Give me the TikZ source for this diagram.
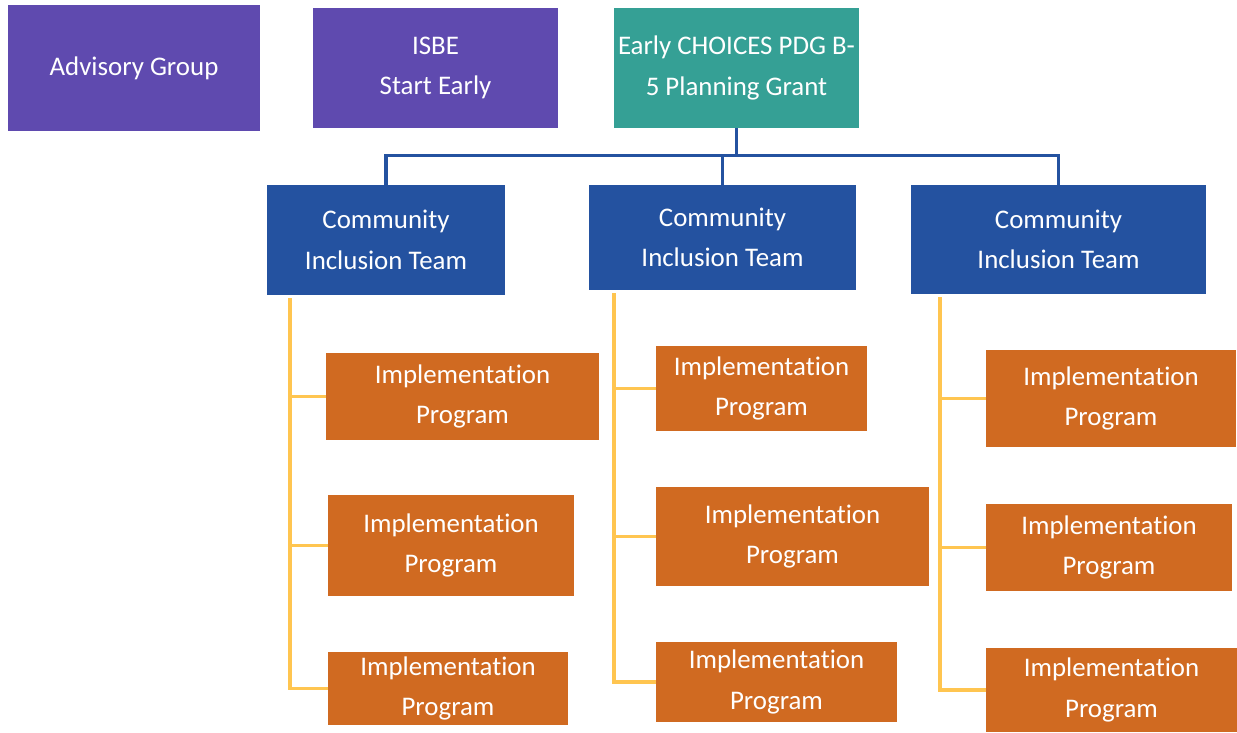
\documentclass[tikz,border=0pt]{standalone}
\usepackage{fontspec}
\setmainfont[Ligatures={NoCommon}]{Carlito}
\definecolor{advpurple}{RGB}{95,74,175}
\definecolor{grantteal}{RGB}{53,160,149}
\definecolor{teamblue}{RGB}{36,82,160}
\definecolor{progorange}{RGB}{208,106,33}
\definecolor{linkyellow}{RGB}{255,197,80}
\tikzset{boxsize/.style 2 args={minimum width=#1*0.02cm, minimum height=#2*0.02cm}}
\tikzstyle{box} = [rectangle, text=white, align=center, inner sep=0pt, font=\fontsize{15.3}{23}\selectfont]
\tikzstyle{lead} = [box, fill=advpurple]
\tikzstyle{grant} = [box, fill=grantteal]
\tikzstyle{team} = [box, fill=teamblue]
\tikzstyle{prog} = [box, fill=progorange]
\tikzstyle{bluelink} = [draw=teamblue, line width=1.8pt]
\tikzstyle{yellowlink} = [draw=linkyellow, line width=1.9pt]

\begin{document}
\begin{tikzpicture}[x=0.02cm, y=-0.02cm]
    \useasboundingbox (0,0) rectangle (1237,733);
    % Nodes
    \node[lead, boxsize={252}{126}] (adv) at (134,68) {Advisory Group};
    \node[lead, boxsize={245}{120}] (isbe) at (435.5,68) {ISBE\\Start Early};
    \node[grant, boxsize={245}{120}] (pdg) at (736.5,68) {Early CHOICES PDG B-\\5 Planning Grant};
    \node[team, boxsize={238}{110}] (cit1) at (386,240) {Community\\Inclusion Team};
    \node[team, boxsize={267}{105}] (cit2) at (722.5,237.5) {Community\\Inclusion Team};
    \node[team, boxsize={295}{109}] (cit3) at (1058.5,239.5) {Community\\Inclusion Team};
    \foreach \c/\r/\x/\y/\w/\h in {1/1/462.5/396.5/273/87, 1/2/451/545.5/246/101, 1/3/448/688.5/240/73,
                                   2/1/761.5/388.5/211/85, 2/2/792.5/536.5/273/99, 2/3/776.5/682/241/80,
                                   3/1/1111/398.5/250/97, 3/2/1109/547.5/246/87, 3/3/1111.5/690/251/84}
      \node[prog, boxsize={\w}{\h}] (ip\c\r) at (\x,\y) {Implementation\\Program};
    % Edges
    \draw[bluelink] (pdg.south) -- ++(0,27) coordinate (hub);
    \draw[bluelink] (cit1.north) |- (hub) -| (cit3.north);
    \draw[bluelink] (cit2.north) -- (cit2.north |- hub);
    \coordinate (sp1) at (290,298);
    \coordinate (sp2) at (614,293);
    \coordinate (sp3) at (940,297);
    \foreach \c in {1,2,3} {
      \draw[yellowlink] (sp\c) |- (ip\c3.west);
      \foreach \r in {1,2} \draw[yellowlink] (ip\c\r.west) -- (sp\c |- ip\c\r.west);
    }
  \end{tikzpicture}
\end{document}
